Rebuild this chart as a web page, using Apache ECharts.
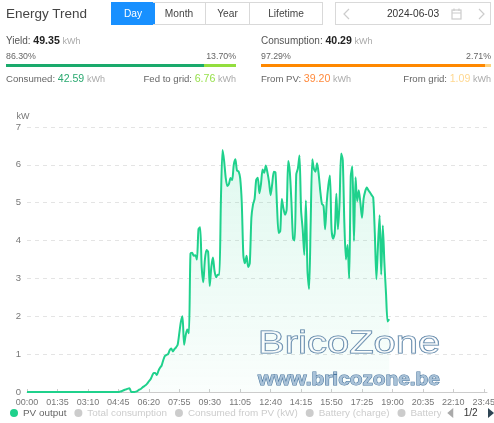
<!DOCTYPE html>
<html>
<head>
<meta charset="utf-8">
<title>Energy Trend</title>
<script src="https://cdn.jsdelivr.net/npm/echarts@6/dist/echarts.min.js"></script>
<style>
html,body{margin:0;padding:0;background:#fff;overflow:hidden}
body{width:494px;height:423px;position:relative;font-family:"Liberation Sans",Arial,sans-serif;color:#555}
#chart{position:absolute;left:0;top:0;width:494px;height:423px}
.t{position:absolute;white-space:nowrap;line-height:16px}
.btn{position:absolute;top:2px;height:21px;line-height:22px;border:1px solid #d9d9d9;text-align:center;font-size:10.2px;color:#444;box-sizing:content-box}
.bar{position:absolute;top:64px;height:3px}
.l{font-size:9.6px;color:#666}
.p{font-size:8.8px;color:#666}
b{color:#222;font-size:10.6px}
.u{color:#aaa;font-size:9px}
.n{font-size:10.6px}
</style>
</head>
<body>
<div id="chart"></div>

<div class="t" style="left:6px;top:5px;font-size:13.5px;line-height:17px;color:#444">Energy Trend</div>
<div class="btn" style="left:111px;width:42px;background:#1890ff;border-color:#1890ff;color:#fff">Day</div>
<div class="btn" style="left:153px;width:52px;border-left:none">Month</div>
<div class="btn" style="left:206px;width:43px;border-left:none">Year</div>
<div class="btn" style="left:250px;width:72px;border-left:none">Lifetime</div>
<div class="btn" style="left:335px;width:154px;color:#333">2024-06-03</div>
<svg style="position:absolute;left:335px;top:2px" width="156" height="23" fill="none" stroke="#ccc" stroke-width="1.2">
  <path d="M14 7 L9 12 L14 17"/>
  <path d="M144 7 L149 12 L144 17"/>
  <rect x="117" y="8" width="9" height="9"/>
  <path d="M117 11 H126 M119 6.5 V9 M124 6.5 V9"/>
</svg>

<div class="t l" style="left:6px;top:32px"><span style="font-size:10px;color:#555">Yield:</span> <b>49.35</b> <span class="u">kWh</span></div>
<div class="t p" style="left:6px;top:48px">86.30%</div>
<div class="t p" style="right:258px;top:48px">13.70%</div>
<div class="bar" style="left:6px;width:198px;background:#1aaa6c"></div>
<div class="bar" style="left:204px;width:32px;background:#93de3e"></div>
<div class="t l" style="left:6px;top:70px">Consumed: <span class="n" style="color:#2aa970">42.59</span> <span class="u">kWh</span></div>
<div class="t l" style="right:258px;top:70px">Fed to grid: <span class="n" style="color:#97e04c">6.76</span> <span class="u">kWh</span></div>

<div class="t l" style="left:261px;top:32px"><span style="font-size:10px;color:#555">Consumption:</span> <b>40.29</b> <span class="u">kWh</span></div>
<div class="t p" style="left:261px;top:48px">97.29%</div>
<div class="t p" style="right:3px;top:48px">2.71%</div>
<div class="bar" style="left:261px;width:224px;background:#ff8800"></div>
<div class="bar" style="left:485px;width:6px;background:#ffd27f"></div>
<div class="t l" style="left:261px;top:70px">From PV: <span class="n" style="color:#ff8a3d">39.20</span> <span class="u">kWh</span></div>
<div class="t l" style="right:3px;top:70px">From grid: <span class="n" style="color:#ffd890">1.09</span> <span class="u">kWh</span></div>

<script>
// Five-minute PV output in kW, 00:00 through 18:50
const pvOutput = [
  0,0,0,0,0,0,0,0,0,0,0,0,
  0,0,0,0,0,0,0,0,0,0,0,0,
  0,0,0,0,0,0,0,0,0,0,0,0,
  0,0,0,0,0,0,0,0,0,0,0,0,
  0,0,0,0,0,0,0,0,0,0,.01,.02,
  .04,.06,.07,.09,.1,0,0,0,.01,.03,.06,.08,
  .12,.15,.18,.22,.28,.33,.42,.5,.5,.45,.56,.64,
  .7,.84,.95,.98,1,1.1,1.15,1.07,1.13,1.18,1.25,1.55,
  1.85,2,1.25,1.5,1.65,1.55,3.66,3.68,3.6,3.61,3.5,4.3,
  4.35,3.3,2.9,3.5,3.75,3.7,2.8,3.3,3.55,3.2,3.03,3.1,
  3.1,5.1,6.39,6.1,5.65,5.44,5.5,5.65,5.6,6,6.15,5.85,
  5.83,5.65,5,3.6,3.4,3.6,3.3,3.4,4.6,4.95,5.1,5.6,
  5.66,5.25,5.5,5.88,5.79,5.98,5.8,5.55,5.2,5.5,5.82,5.8,
  4.9,4.2,4.25,5.1,4.85,4.68,4.82,6.1,5.8,5,4.05,4,
  5.75,5.9,6.25,4.8,4.3,3.62,5.06,3.2,2.72,4.5,6.15,5.9,
  5.82,6.04,5.75,5.3,4.97,4.92,4.3,5,5.45,5.72,4.3,4.05,
  4.2,5.24,4.3,5,6.3,6.13,4.47,3.5,3.88,3,5.7,5.96,
  3.99,5.67,5.04,5.33,5,4.6,5.1,5.3,5.4,5.33,5.27,5.2,
  5.14,4.2,2.98,3.9,4.67,3.1,4.4,3.4,2.6,1.86,1.92
];
const totalConsumption = [];
const consumedFromPv = [];
const batteryCharge = [];
const batteryDischarge = [];
const gridImport = [];

// One category per five minutes of the day
const timeLabels = [];
for (let m = 0; m < 1440; m += 5) {
  timeLabels.push(String(Math.floor(m / 60)).padStart(2, '0') + ':' + String(m % 60).padStart(2, '0'));
}

const legendNames = ['PV output', 'Total consumption', 'Consumed from PV (kW)', 'Battery (charge)', 'Battery (discharge)', 'Power from grid'];
const extraSeries = [totalConsumption, consumedFromPv, batteryCharge, batteryDischarge, gridImport];
const lineGreen = '#1fd18c';

const chart = echarts.init(document.getElementById('chart'), null, { renderer: 'canvas' });
const hidden = {};
legendNames.slice(1).forEach(n => { hidden[n] = false; });

chart.setOption({
  animation: false,
  textStyle: { fontFamily: '"Liberation Sans", Arial, sans-serif' },
  grid: { left: 27, right: 7, top: 127, bottom: 31, containLabel: false, outerBoundsMode: 'none' },
  legend: {
    type: 'scroll',
    left: 10, right: 11, top: 408,
    padding: 0,
    itemWidth: 8, itemHeight: 8, itemGap: 8,
    icon: 'circle',
    data: legendNames,
    selected: hidden,
    textStyle: { color: '#666', fontSize: 9.9 },
    inactiveColor: '#ccc',
    pageIconColor: '#2f4554',
    pageIconInactiveColor: '#aaa',
    pageIconSize: 10,
    pageButtonItemGap: 6,
    pageButtonGap: 6,
    pageTextStyle: { color: '#333', fontSize: 10 }
  },
  xAxis: {
    type: 'category',
    boundaryGap: false,
    data: timeLabels,
    axisLine: { lineStyle: { color: '#ccc' } },
    axisTick: { show: true, interval: 18, length: 3, inside: true, lineStyle: { color: '#ccc' } },
    axisLabel: { interval: 18, color: '#777', fontSize: 9, margin: 6, hideOverlap: false }
  },
  yAxis: {
    type: 'value',
    name: 'kW',
    nameGap: 6,
    nameTextStyle: { color: '#777', fontSize: 9, align: 'center', padding: [0, 0, 0, -8] },
    min: 0, max: 7, interval: 1,
    axisLine: { show: false },
    axisTick: { show: false },
    axisLabel: { color: '#777', fontSize: 9.5, margin: 6 },
    splitLine: { lineStyle: { color: '#e4e4e4', type: [4, 4] } }
  },
  series: [
    {
      name: legendNames[0],
      type: 'line',
      data: pvOutput,
      showSymbol: false,
      smooth: 0.25,
      color: lineGreen,
      lineStyle: { width: 2, color: lineGreen },
      areaStyle: {
        color: new echarts.graphic.LinearGradient(0, 0, 0, 1, [
          { offset: 0, color: 'rgba(31,209,140,0.2)' },
          { offset: 1, color: 'rgba(31,209,140,0.03)' }
        ])
      }
    }
  ].concat(extraSeries.map((d, i) => ({
    name: legendNames[i + 1],
    type: 'line',
    data: d,
    showSymbol: false,
    color: '#ccc'
  }))),
  graphic: [
    {
      type: 'text', x: 258, y: 328, scaleX: 1.25, z: 100,
      style: {
        text: 'BricoZone',
        font: '32px "Liberation Sans", Arial, sans-serif',
        fill: 'rgba(255,255,255,0.55)', stroke: '#47749c', lineWidth: 1
      }
    },
    {
      type: 'text', x: 258, y: 370, scaleX: 1.095, z: 100,
      style: {
        text: 'www.bricozone.be',
        font: 'bold 19px "Liberation Sans", Arial, sans-serif',
        fill: '#a9c2d8', stroke: '#47749c', lineWidth: 1
      }
    }
  ]
});
</script>
</body>
</html>
